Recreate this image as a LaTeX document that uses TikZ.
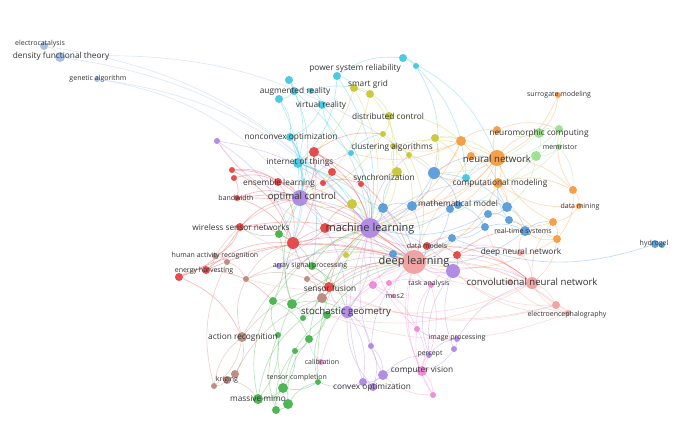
\documentclass[tikz,border=0pt]{standalone}
\usepackage{fontspec}
\setmainfont{Open Sans}
\usetikzlibrary{backgrounds}
\definecolor{vosSteel}{RGB}{160,188,228}
\definecolor{vosCyan}{RGB}{62,196,222}
\definecolor{vosYellow}{RGB}{198,198,48}
\definecolor{vosRed}{RGB}{228,62,62}
\definecolor{vosBrown}{RGB}{186,132,120}
\definecolor{vosGreen}{RGB}{64,176,72}
\definecolor{vosPurple}{RGB}{170,132,226}
\definecolor{vosPink}{RGB}{236,132,212}
\definecolor{vosSalmon}{RGB}{240,156,156}
\definecolor{vosBlue}{RGB}{82,152,216}
\definecolor{vosOrange}{RGB}{246,152,60}
\definecolor{vosLime}{RGB}{152,222,140}
\tikzset{
    kwnode/.style={circle, fill=#1, draw=none, inner sep=0pt, fill opacity=0.92},
    kwlink/.style={draw=#1, line width=0.65pt, draw opacity=0.36},
    kwlabel/.style={text=black!80, inner sep=0pt},
    lblA/.style={font=\fontsize{11}{13}\selectfont},
    lblB/.style={font=\fontsize{9.6}{11}\selectfont},
    lblC/.style={font=\fontsize{8.3}{9.5}\selectfont},
    lblD/.style={font=\fontsize{7}{8}\selectfont}
}
\begin{document}
\begin{tikzpicture}[x=1pt, y=-1pt]
    \useasboundingbox (0,0) rectangle (700,432);
    % keyword circles
    \foreach \n/\x/\y/\r/\c in {
        ec/44/46/4/vosSteel, dft/60/57/5/vosSteel, ga/97/79/3/vosSteel,
        c1/337/76/4/vosCyan, c2/403/58/4/vosCyan, c3/416/66/3/vosCyan, c4/289/80/4/vosCyan,
        c5/294/91/4/vosCyan, c6/279/99/4/vosCyan, c7/311/91/3/vosCyan, c8/322/105/4/vosCyan,
        c9/290/137/4/vosCyan, c10/298/163/5/vosCyan, c11/351/153/3/vosCyan, c12/466/178/4/vosCyan,
        y1/354/88/4/vosYellow, y2/370/94/4/vosYellow, y3/389/116/4/vosYellow, y4/383/134/3/vosYellow,
        y5/393/146/3/vosYellow, y6/409/155/3/vosYellow, y7/435/138/4/vosYellow, y8/397/172/5/vosYellow,
        y9/352/204/5/vosYellow, y10/346/255/3/vosYellow,
        r1/314/152/5/vosRed, r2/232/170/3/vosRed, r3/234/178/3/vosRed, r4/278/182/4/vosRed,
        r5/332/172/4/vosRed, r6/323/183/3/vosRed, r7/361/184/3/vosRed, r8/237/198/3/vosRed,
        r9/240/227/4/vosRed, r10/293/243/6/vosRed, r11/325/228/5/vosRed, r12/427/246/4/vosRed,
        r13/457/255/4/vosRed, r14/179/277/4/vosRed, r15/206/270/4/vosRed, r16/329/287/5/vosRed,
        b1/215/256/3/vosBrown, b2/227/262/3/vosBrown, b3/246/279/3/vosBrown, b4/307/279/3/vosBrown,
        b5/322/298/5/vosBrown, b6/242/337/5/vosBrown, b7/235/374/4/vosBrown, b8/227/380/4/vosBrown,
        b9/214/386/3/vosBrown,
        g1/279/234/4/vosGreen, g2/312/266/4/vosGreen, g3/273/301/4/vosGreen, g4/292/304/5/vosGreen,
        g5/303/318/3/vosGreen, g6/327/315/4/vosGreen, g7/309/339/4/vosGreen, g8/295/351/3/vosGreen,
        g9/283/388/5/vosGreen, g10/258/399/5/vosGreen, g11/288/404/5/vosGreen, g12/276/410/4/vosGreen,
        g13/318/382/3/vosGreen, g14/278/335/3/vosGreen,
        p1/370/228/10/vosPurple, p2/300/198/8/vosPurple, p3/217/141/3/vosPurple, p4/279/266/3/vosPurple,
        p5/453/271/7/vosPurple, p6/347/312/6/vosPurple, p7/371/346/3/vosPurple, p8/383/375/5/vosPurple,
        p9/363/382/4/vosPurple, p10/373/387/4/vosPurple, p11/429/355/3/vosPurple, p12/457/339/3/vosPurple,
        p13/454/349/3/vosPurple,
        m1/373/285/4/vosPink, m2/389/283/3/vosPink, m3/431/285/3/vosPink, m4/393/296/2/vosPink,
        m5/417/329/3/vosPink, m6/422/371/5/vosPink, m7/433/395/3/vosPink, m8/321/362/3/vosPink,
        s1/414/262/12/vosSalmon, s2/510/282/3/vosSalmon, s3/532/283/6/vosSalmon, s4/520/253/3/vosSalmon,
        s5/556/305/4/vosSalmon, s6/568/313/3/vosSalmon,
        bl1/434/173/6/vosBlue, bl2/383/208/5/vosBlue, bl3/412/206/5/vosBlue, bl4/450/209/4/vosBlue,
        bl5/458/205/4/vosBlue, bl6/507/207/5/vosBlue, bl7/488/214/4/vosBlue, bl8/509/220/4/vosBlue,
        bl9/485/227/4/vosBlue, bl10/525/231/5/vosBlue, bl11/452/238/4/vosBlue, bl12/393/254/4/vosBlue,
        bl13/655/244/4/vosBlue, bl14/662/245/3/vosBlue,
        o1/497/158/8/vosOrange, o2/461/141/5/vosOrange, o3/497/130/4/vosOrange, o4/471/156/4/vosOrange,
        o5/498/183/5/vosOrange, o6/573/190/4/vosOrange, o7/579/206/3/vosOrange, o8/553/222/4/vosOrange,
        o9/557/239/4/vosOrange, o10/558/95/3/vosOrange,
        lg1/539/133/5/vosLime, lg2/559/129/4/vosLime, lg3/559/147/3/vosLime, lg4/536/156/5/vosLime}
        \node[kwnode=\c, minimum size=\r*2pt] (\n) at (\x,\y) {};
    % co-occurrence links
    \begin{scope}[on background layer]
    \foreach \a/\b/\c in {
        ec/dft/vosSteel, dft/p1/vosSteel, dft/bl1/vosSteel, ga/p2/vosSteel, ec/p1/vosSteel, ga/p1/vosSteel,
        c1/c2/vosCyan, c2/c3/vosCyan, c1/y1/vosCyan, c4/c5/vosCyan, c5/c6/vosCyan, c5/c7/vosCyan,
        c7/c8/vosCyan, c8/c9/vosCyan, c9/c10/vosCyan, c10/p1/vosCyan, c10/p2/vosCyan, c9/p2/vosCyan,
        c8/p1/vosCyan, c4/c10/vosCyan, c6/c9/vosCyan, c3/c12/vosCyan, c2/o1/vosCyan, c1/c10/vosCyan,
        c10/s1/vosCyan, c9/r10/vosCyan, c11/p1/vosCyan, c11/c8/vosCyan, c10/g1/vosCyan, c9/g2/vosCyan,
        c5/p1/vosCyan, c12/bl1/vosCyan, c12/o1/vosCyan, c4/p2/vosCyan, c6/r10/vosCyan, c7/y2/vosCyan,
        c1/p1/vosCyan, c3/bl1/vosCyan, c11/y4/vosCyan, c10/r5/vosCyan, c10/y9/vosCyan,
        y1/y2/vosYellow, y2/y3/vosYellow, y3/y4/vosYellow, y4/y5/vosYellow, y5/y6/vosYellow,
        y6/y7/vosYellow, y7/o2/vosYellow, y8/y5/vosYellow, y8/p1/vosYellow, y9/p1/vosYellow,
        y9/p2/vosYellow, y3/p1/vosYellow, y1/p1/vosYellow, y2/y8/vosYellow, y7/bl1/vosYellow,
        y6/bl1/vosYellow, y9/y10/vosYellow, y10/s1/vosYellow, y4/p2/vosYellow, y5/o1/vosYellow,
        y3/o2/vosYellow, y1/c10/vosYellow, y8/r5/vosYellow, y7/o1/vosYellow, y2/p2/vosYellow,
        y6/s1/vosYellow, y7/c12/vosYellow, y5/bl3/vosYellow, y9/bl2/vosYellow,
        r1/r5/vosRed, r1/r10/vosRed, r1/p2/vosRed, r2/r4/vosRed, r3/r4/vosRed, r4/p2/vosRed,
        r5/r6/vosRed, r6/r7/vosRed, r7/p1/vosRed, r8/p2/vosRed, r8/r10/vosRed, r9/r10/vosRed,
        r9/p2/vosRed, r10/p1/vosRed, r11/p1/vosRed, r11/s1/vosRed, r12/s1/vosRed, r12/r13/vosRed,
        r13/s3/vosRed, r13/bl10/vosRed, r14/r15/vosRed, r15/r10/vosRed, r15/s1/vosRed, r16/s1/vosRed,
        r16/p1/vosRed, r16/b5/vosRed, r9/r14/vosRed, r2/r10/vosRed, r3/r8/vosRed, r14/b6/vosRed,
        r15/g3/vosRed, r11/r10/vosRed, r12/p1/vosRed, r13/p5/vosRed, r4/r10/vosRed, r9/b1/vosRed,
        r16/r10/vosRed, r14/s1/vosRed, r5/p1/vosRed, r1/p1/vosRed, r2/p2/vosRed, r10/s1/vosRed,
        r9/s1/vosRed, r8/s1/vosRed, r13/s4/vosRed, r12/s3/vosRed, r11/y9/vosRed, r1/y4/vosRed,
        r12/bl11/vosRed, r1/s1/vosRed, r4/p1/vosRed, r8/p1/vosRed,
        b1/b2/vosBrown, b2/b3/vosBrown, b3/b4/vosBrown, b4/b5/vosBrown, b5/s1/vosBrown, b6/b7/vosBrown,
        b7/b8/vosBrown, b8/b9/vosBrown, b6/b3/vosBrown, b6/b9/vosBrown, b9/b2/vosBrown, b7/b5/vosBrown,
        b6/p1/vosBrown, b8/g10/vosBrown, b1/p2/vosBrown, b3/r10/vosBrown, b6/r16/vosBrown,
        b1/r15/vosBrown, b4/s1/vosBrown, b5/p1/vosBrown, b9/b6/vosBrown, b4/r16/vosBrown, b3/s1/vosBrown,
        g1/g2/vosGreen, g1/g3/vosGreen, g3/g4/vosGreen, g4/g5/vosGreen, g5/g6/vosGreen, g6/g7/vosGreen,
        g7/g8/vosGreen, g8/g9/vosGreen, g9/g10/vosGreen, g10/g11/vosGreen, g11/g12/vosGreen,
        g12/g9/vosGreen, g13/g9/vosGreen, g13/g6/vosGreen, g14/g3/vosGreen, g14/g10/vosGreen,
        g4/p6/vosGreen, g6/p6/vosGreen, g7/p1/vosGreen, g2/p1/vosGreen, g4/r10/vosGreen, g3/g7/vosGreen,
        g10/g5/vosGreen, g11/g7/vosGreen, g12/g14/vosGreen, g1/p2/vosGreen, g9/g4/vosGreen,
        g13/p1/vosGreen, g6/s1/vosGreen, g11/g13/vosGreen, g10/g3/vosGreen, g12/g8/vosGreen,
        g9/g6/vosGreen, g2/p6/vosGreen, g5/s1/vosGreen, g2/r16/vosGreen, g1/r9/vosGreen,
        g4/p2/vosGreen, g3/p1/vosGreen, g4/s1/vosGreen,
        p1/p2/vosPurple, p1/s1/vosPurple, p1/p5/vosPurple, p1/p6/vosPurple, p2/p3/vosPurple,
        p3/r10/vosPurple, p4/p1/vosPurple, p4/g2/vosPurple, p6/p7/vosPurple, p7/p8/vosPurple,
        p8/p9/vosPurple, p9/p10/vosPurple, p10/p8/vosPurple, p8/p11/vosPurple, p11/p12/vosPurple,
        p12/p13/vosPurple, p13/p5/vosPurple, p6/p9/vosPurple, p7/p10/vosPurple, p5/s1/vosPurple,
        p6/s1/vosPurple, p2/p6/vosPurple, p3/p1/vosPurple, p11/p5/vosPurple, p12/s3/vosPurple,
        p8/p1/vosPurple, p9/g13/vosPurple, p2/s1/vosPurple, p10/p6/vosPurple, p7/s1/vosPurple,
        p5/s3/vosPurple, p9/p1/vosPurple, p4/s1/vosPurple, p13/m6/vosPurple, p8/m6/vosPurple,
        p1/bl5/vosPurple, p1/y6/vosPurple, p2/r11/vosPurple, p2/c11/vosPurple, p1/o5/vosPurple,
        p6/r16/vosPurple, p12/m5/vosPurple, p11/m3/vosPurple,
        m1/m2/vosPink, m2/m3/vosPink, m3/s1/vosPink, m1/s1/vosPink, m4/m1/vosPink, m5/m3/vosPink,
        m5/m6/vosPink, m6/m7/vosPink, m6/p11/vosPink, m7/m5/vosPink, m3/m6/vosPink, m1/m5/vosPink,
        m8/m1/vosPink, m6/s1/vosPink, m2/p5/vosPink, m7/p8/vosPink, m3/p5/vosPink, m8/g7/vosPink,
        m4/s1/vosPink, m5/p1/vosPink, m7/s1/vosPink, m2/p6/vosPink, m1/p1/vosPink,
        s1/s3/vosSalmon, s1/s4/vosSalmon, s3/s2/vosSalmon, s3/s5/vosSalmon, s5/s6/vosSalmon,
        s6/s3/vosSalmon, s4/s3/vosSalmon, s2/s1/vosSalmon, s1/s5/vosSalmon, s1/s6/vosSalmon,
        s1/bl12/vosSalmon, s6/s2/vosSalmon, s3/b5/vosSalmon, s1/r9/vosSalmon, s3/g6/vosSalmon,
        s3/p1/vosSalmon, s4/bl10/vosSalmon, s5/p5/vosSalmon, s5/r16/vosSalmon, s6/g6/vosSalmon,
        s1/bl9/vosSalmon, s1/o1/vosSalmon, s1/p3/vosSalmon, s1/b3/vosSalmon, s3/bl9/vosSalmon,
        s3/o8/vosSalmon, s5/b4/vosSalmon, s6/p5/vosSalmon, s2/r13/vosSalmon,
        bl1/bl3/vosBlue, bl1/bl5/vosBlue, bl2/bl3/vosBlue, bl3/bl4/vosBlue, bl4/bl5/vosBlue,
        bl5/bl6/vosBlue, bl6/bl7/vosBlue, bl7/bl8/vosBlue, bl8/bl10/vosBlue, bl9/bl10/vosBlue,
        bl9/bl11/vosBlue, bl11/bl12/vosBlue, bl12/s1/vosBlue, bl2/p1/vosBlue, bl3/p1/vosBlue,
        bl1/p1/vosBlue, bl10/o8/vosBlue, bl6/o1/vosBlue, bl13/bl14/vosBlue, bl13/bl11/vosBlue,
        bl4/s1/vosBlue, bl7/bl11/vosBlue, bl1/o1/vosBlue, bl2/y8/vosBlue, bl5/bl9/vosBlue,
        bl6/bl10/vosBlue, bl3/s1/vosBlue, bl1/bl6/vosBlue, bl8/o5/vosBlue, bl10/s1/vosBlue,
        bl11/s1/vosBlue, bl4/p1/vosBlue, bl7/p1/vosBlue, bl2/s1/vosBlue, bl12/p1/vosBlue,
        o1/o2/vosOrange, o1/o3/vosOrange, o1/o4/vosOrange, o1/o5/vosOrange, o1/lg1/vosOrange,
        o5/o6/vosOrange, o6/o7/vosOrange, o7/o8/vosOrange, o8/o9/vosOrange, o9/o5/vosOrange,
        o10/lg1/vosOrange, o10/o1/vosOrange, o1/o6/vosOrange, o2/o3/vosOrange, o4/o5/vosOrange,
        o5/bl1/vosOrange, o5/bl6/vosOrange, o9/bl10/vosOrange, o1/p1/vosOrange, o2/p1/vosOrange,
        o8/o1/vosOrange, o9/s1/vosOrange, o6/lg2/vosOrange, o3/lg2/vosOrange, o2/y5/vosOrange,
        o5/s1/vosOrange, o8/bl8/vosOrange, o7/o5/vosOrange, o9/s3/vosOrange, o6/o9/vosOrange,
        o2/bl1/vosOrange, o4/p1/vosOrange, o1/bl4/vosOrange, o1/bl3/vosOrange, o2/c11/vosOrange,
        lg1/lg2/vosLime, lg2/lg3/vosLime, lg3/lg4/vosLime, lg1/lg4/vosLime, lg4/o1/vosLime,
        lg1/o3/vosLime, lg2/o1/vosLime, lg3/o5/vosLime, lg4/bl6/vosLime, lg1/bl1/vosLime,
        lg3/o6/vosLime, lg2/lg4/vosLime, lg4/p1/vosLime}
        \draw[kwlink=\c] (\a) to[bend left=20] (\b);
    \end{scope}
    % keyword labels
    \foreach \n/\x/\y/\s/\t in {
        l-ec/40/44/lblD/electrocatalysis, l-dft/61/56/lblC/density functional theory,
        l-ga/98/79/lblD/genetic algorithm, l-psr/355/68/lblC/power system reliability,
        l-sg/368/84/lblC/smart grid, l-ar/295/91/lblC/augmented reality,
        l-vr/321/105/lblC/virtual reality, l-dc/388/116/lblC/distributed control,
        l-nco/291/137/lblC/nonconvex optimization, l-ca/392/147/lblC/clustering algorithms,
        l-iot/300/162/lblC/internet of things, l-el/279/183/lblC/ensemble learning,
        l-sync/384/178/lblC/synchronization, l-oc/302/197/lblB/optimal control,
        l-bw/236/198/lblD/bandwidth, l-mm/458/203/lblC/mathematical model,
        l-wsn/241/227/lblC/wireless sensor networks, l-ml/370/229/lblA/machine learning,
        l-rts/523/232/lblD/real-time systems, l-dm/427/246/lblD/data models,
        l-dnn/521/252/lblC/deep neural network, l-hg/654/244/lblD/hydrogel,
        l-har/215/256/lblD/human activity recognition, l-dl/414/262/lblA/deep learning,
        l-asp/310/266/lblD/array signal processing, l-eh/204/271/lblD/energy harvesting,
        l-cnn/532/282/lblB/convolutional neural network, l-ta/429/284/lblD/task analysis,
        l-sf/330/288/lblC/sensor fusion, l-mos/395/296/lblD/mos2,
        l-sgeo/346/312/lblB/stochastic geometry, l-eeg/567/315/lblD/electroencephalography,
        l-acr/243/337/lblC/action recognition, l-ip/457/338/lblD/image processing,
        l-per/430/354/lblD/percept, l-cal/322/362/lblD/calibration,
        l-cv/422/370/lblC/computer vision, l-tc/297/378/lblD/tensor completion,
        l-kr/227/380/lblD/kriging, l-cvx/372/387/lblC/convex optimization,
        l-mimo/258/398/lblC/massive mimo, l-srm/559/95/lblD/surrogate modeling,
        l-nmc/539/133/lblC/neuromorphic computing, l-mr/560/147/lblD/memristor,
        l-nn/497/159/lblB/neural network, l-cm/500/183/lblC/computational modeling,
        l-dmi/580/207/lblD/data mining}
        \node[kwlabel, \s] (\n) at (\x,\y) {\t};
\end{tikzpicture}
\end{document}
